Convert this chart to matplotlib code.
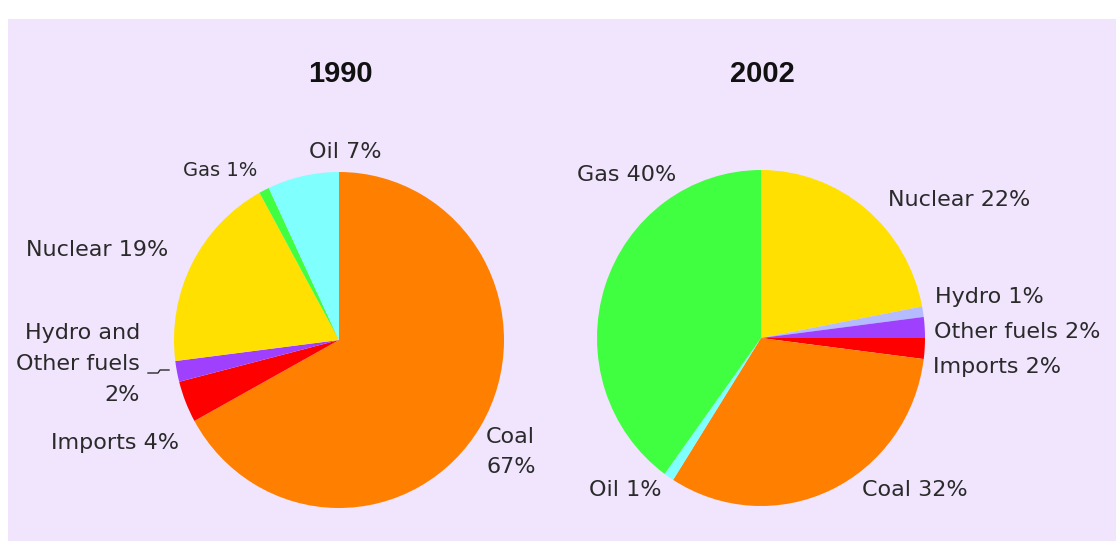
import matplotlib
matplotlib.use("Agg")
import matplotlib.pyplot as plt
from matplotlib.patches import Rectangle
from matplotlib.lines import Line2D

# Electricity generation by fuel, share of total (%)
labels_1990 = ["Coal", "Imports", "Hydro and Other fuels", "Nuclear", "Gas", "Oil"]
shares_1990 = [67, 4, 2, 19, 1, 7]

labels_2002 = ["Nuclear", "Hydro", "Other fuels", "Imports", "Coal", "Oil", "Gas"]
shares_2002 = [22, 1, 2, 2, 32, 1, 40]

fuel_colors = {
    "Coal": "#ff8000",
    "Imports": "#ff0000",
    "Hydro and Other fuels": "#a040ff",
    "Other fuels": "#a040ff",
    "Hydro": "#b4bcff",
    "Nuclear": "#ffe000",
    "Gas": "#40ff40",
    "Oil": "#80ffff",
}

W, H = 1116, 541
fig = plt.figure(figsize=(W / 100, H / 100), dpi=100, facecolor="white")

# lavender panel behind both pies
fig.patches.append(Rectangle((8 / W, 0), 1 - 8 / W, 1 - 19 / H,
                             transform=fig.transFigure, facecolor="#f1e4fd",
                             edgecolor="none", zorder=-5))


def px(x, y):
    return x / W, 1 - y / H


def pie_axes(cx, cy, rx, ry):
    ax = fig.add_axes([(cx - rx) / W, (H - cy - ry) / H, 2 * rx / W, 2 * ry / H])
    ax.set_zorder(2)
    return ax


def draw_pie(ax, labels, shares):
    ax.pie(shares, colors=[fuel_colors[l] for l in labels], startangle=90,
           counterclock=False, radius=1,
           wedgeprops=dict(linewidth=0, edgecolor="none"))
    ax.set_xlim(-1, 1)
    ax.set_ylim(-1, 1)
    ax.set_aspect("auto")
    ax.axis("off")


ax1 = pie_axes(339, 340, 165, 168)
draw_pie(ax1, labels_1990, shares_1990)
ax2 = pie_axes(761, 338, 164, 168)
draw_pie(ax2, labels_2002, shares_2002)

title_kw = dict(family="Liberation Sans", fontweight="bold", fontsize=21,
                color="#111111", ha="center", va="center")
fig.text(*px(340, 74), "1990", **title_kw)
fig.text(*px(762, 74), "2002", **title_kw)

lab = dict(family="DejaVu Sans", fontsize=16, color="#2a2a2a", va="center")


def share_text(labels, shares, name):
    return f"{shares[labels.index(name)]}%"


s90 = lambda n: share_text(labels_1990, shares_1990, n)
s02 = lambda n: share_text(labels_2002, shares_2002, n)

# 1990 labels
fig.text(*px(345, 152), f"Oil {s90('Oil')}", ha="center", **lab)
fig.text(*px(220, 171), f"Gas {s90('Gas')}", ha="center",
         **{**lab, "fontsize": 14})
fig.text(*px(97, 250), f"Nuclear {s90('Nuclear')}", ha="center", **lab)
fig.text(*px(140, 333), "Hydro and", ha="right", **lab)
fig.text(*px(140, 364), "Other fuels", ha="right", **lab)
fig.text(*px(140, 395), s90("Hydro and Other fuels"), ha="right", **lab)
fig.lines.append(Line2D([148 / W, 158 / W, 160 / W, 169 / W],
                        [1 - 373 / H, 1 - 373 / H, 1 - 370 / H, 1 - 370 / H],
                        transform=fig.transFigure, color="#2a2a2a", lw=1))
fig.text(*px(115, 443), f"Imports {s90('Imports')}", ha="center", **lab)
fig.text(*px(486, 437), "Coal", ha="left", **lab)
fig.text(*px(486, 467), s90("Coal"), ha="left", **lab)

# 2002 labels
fig.text(*px(627, 175), f"Gas {s02('Gas')}", ha="center", **lab)
fig.text(*px(959, 200), f"Nuclear {s02('Nuclear')}", ha="center", **lab)
fig.text(*px(935, 297), f"Hydro {s02('Hydro')}", ha="left", **lab)
fig.text(*px(934, 332), f"Other fuels {s02('Other fuels')}", ha="left", **lab)
fig.text(*px(933, 367), f"Imports {s02('Imports')}", ha="left", **lab)
fig.text(*px(625, 490), f"Oil {s02('Oil')}", ha="center", **lab)
fig.text(*px(915, 490), f"Coal {s02('Coal')}", ha="center", **lab)

fig.savefig("out.png", dpi=100, facecolor="white")
